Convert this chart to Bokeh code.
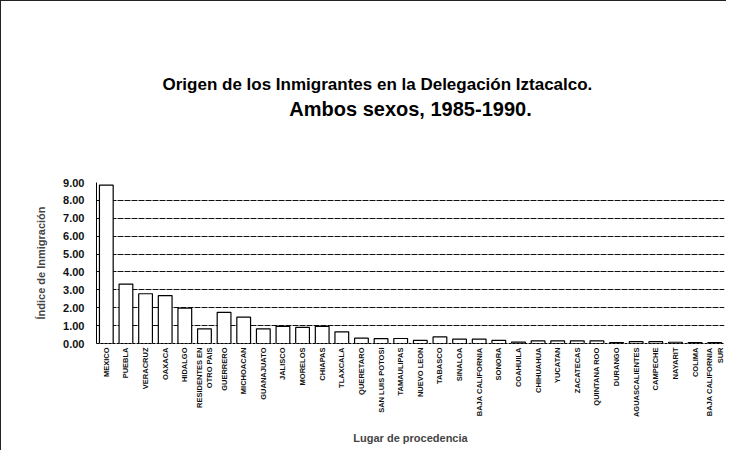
import math
from bokeh.plotting import figure
from bokeh.models import FactorRange, Range1d, FixedTicker, NumeralTickFormatter, Title, ColumnDataSource
from bokeh.embed import file_html
from bokeh.resources import INLINE

categories = [
    "MEXICO", "PUEBLA", "VERACRUZ", "OAXACA", "HIDALGO", "RESIDENTES EN\nOTRO PAIS",
    "GUERRERO", "MICHOACAN", "GUANAJUATO", "JALISCO", "MORELOS", "CHIAPAS",
    "TLAXCALA", "QUERETARO", "SAN LUIS POTOSI", "TAMAULIPAS", "NUEVO LEON", "TABASCO",
    "SINALOA", "BAJA CALIFORNIA", "SONORA", "COAHUILA", "CHIHUAHUA", "YUCATAN",
    "ZACATECAS", "QUINTANA ROO", "DURANGO", "AGUASCALIENTES", "CAMPECHE", "NAYARIT",
    "COLIMA", "BAJA CALIFORNIA\nSUR",
]
values = [
    8.85, 3.32, 2.78, 2.68, 1.97, 0.82,
    1.74, 1.47, 0.82, 0.96, 0.90, 0.96,
    0.65, 0.30, 0.27, 0.28, 0.17, 0.37,
    0.24, 0.24, 0.18, 0.08, 0.15, 0.15,
    0.15, 0.15, 0.05, 0.10, 0.10, 0.07,
    0.05, 0.05,
]
y_ticks = [0, 1, 2, 3, 4, 5, 6, 7, 8, 9]

title_line1 = "Origen de los Inmigrantes en la Delegación Iztacalco."
title_line2 = "Ambos sexos, 1985-1990."
y_title = "Índice de Inmigración"
x_title = "Lugar de procedencia"

FONT = "Liberation Sans"

src = ColumnDataSource(dict(cat=categories, val=values))

p = figure(
    x_range=FactorRange(*categories),
    y_range=Range1d(0, 9),
    width=726, height=450,
    output_backend="svg", toolbar_location=None,
    min_border_left=95, min_border_right=3,
    min_border_top=181, min_border_bottom=108,
)
p.styles = {"border-top": "1px solid #222", "border-left": "1px solid #222"}

p.vbar(x="cat", top="val", width=0.7, source=src,
       fill_color="white", line_color="black", line_width=1.2)

t2 = Title(text=title_line2, align="center", text_font=FONT, text_font_size="20px",
           text_font_style="bold", text_color="black", standoff=126)
t1 = Title(text=title_line1, align="left", offset=66, text_font=FONT, text_font_size="17px",
           text_font_style="bold", text_color="black", standoff=-123)
p.add_layout(t2, "above")
p.add_layout(t1, "above")

p.outline_line_color = None
p.background_fill_color = "white"
p.border_fill_color = "white"

# grid
p.xgrid.grid_line_color = None
p.ygrid.ticker = FixedTicker(ticks=y_ticks)
p.ygrid.grid_line_color = "#111111"
p.ygrid.grid_line_width = 1
p.ygrid.grid_line_dash = "6 1"

# y axis
p.yaxis.ticker = FixedTicker(ticks=y_ticks)
p.yaxis.formatter = NumeralTickFormatter(format="0.00")
p.yaxis.major_label_text_font = FONT
p.yaxis.major_label_text_font_size = "11px"
p.yaxis.major_label_text_font_style = "bold"
p.yaxis.major_label_text_color = "#111111"
p.yaxis.major_tick_line_color = None
p.yaxis.major_tick_out = 0
p.yaxis.major_tick_in = 0
p.yaxis.minor_tick_line_color = None
p.yaxis.major_label_standoff = 12
p.yaxis.axis_line_color = "black"
p.yaxis.axis_label = y_title
p.yaxis.axis_label_text_font = FONT
p.yaxis.axis_label_text_font_size = "11px"
p.yaxis.axis_label_text_font_style = "bold"
p.yaxis.axis_label_standoff = 13

# x axis
p.xaxis.major_label_orientation = math.pi / 2
p.xaxis.major_label_text_font = FONT
p.xaxis.major_label_text_font_size = "7.5px"
p.xaxis.major_label_text_font_style = "bold"
p.xaxis.major_label_text_color = "#111111"
p.xaxis.major_tick_line_color = None
p.xaxis.major_tick_out = 0
p.xaxis.major_tick_in = 0
p.xaxis.major_label_standoff = 4
p.xaxis.axis_line_color = "black"
p.xaxis.axis_line_dash = "3 1"
p.xaxis.axis_label = x_title
p.xaxis.axis_label_text_font = FONT
p.xaxis.axis_label_text_font_size = "11px"
p.xaxis.axis_label_text_font_style = "bold"
p.xaxis.axis_label_standoff = 12

open("out.html", "w").write(file_html(p, INLINE))
